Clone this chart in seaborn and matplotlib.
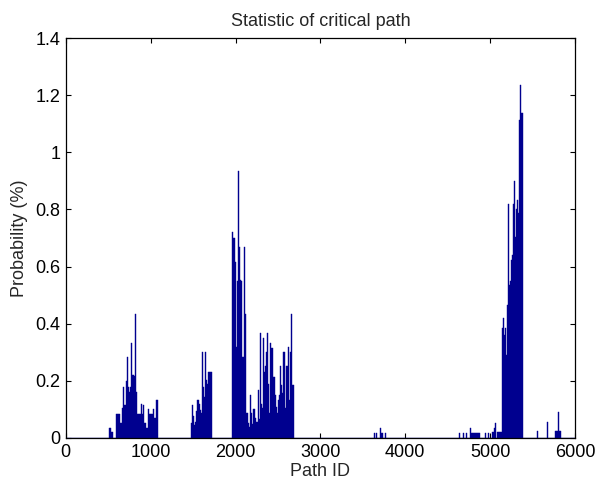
import matplotlib
matplotlib.use("Agg")
import matplotlib.pyplot as plt
import seaborn as sns
import numpy as np
import pandas as pd

# path IDs (bins of 12 ids) and probability (%)
ids_a = [510, 522, 534, 546, 594, 606, 618, 630, 642, 654, 666, 678, 690, 702,
         714, 726, 738, 750, 762, 774, 786, 798, 810, 822, 834, 846, 858, 870,
         882, 894, 906, 918, 930, 942, 954, 966, 978, 990, 1002, 1014, 1026,
         1038, 1050, 1062, 1074, 1086]
prob_a = [0.034, 0.034, 0.02, 0.02, 0.084, 0.084, 0.084, 0.084, 0.052, 0.052,
          0.105, 0.18, 0.115, 0.115, 0.2, 0.285, 0.18, 0.16, 0.18, 0.333,
          0.22, 0.22, 0.217, 0.435, 0.16, 0.084, 0.084, 0.084, 0.084, 0.118,
          0.084, 0.115, 0.052, 0.052, 0.034, 0.034, 0.1, 0.084, 0.084, 0.084,
          0.084, 0.1, 0.07, 0.07, 0.133, 0.133]

ids_b = [1482, 1494, 1506, 1518, 1530, 1542, 1554, 1566, 1578, 1590, 1602,
         1614, 1626, 1638, 1650, 1662, 1674, 1686, 1698, 1710, 1722]
prob_b = [0.051, 0.115, 0.077, 0.045, 0.057, 0.096, 0.133, 0.133, 0.119, 0.098,
          0.086, 0.302, 0.18, 0.145, 0.302, 0.203, 0.19, 0.232, 0.232, 0.232,
          0.232]

ids_c = [1962, 1974, 1986, 1998, 2010, 2022, 2034, 2046, 2058, 2070, 2082,
         2094, 2106, 2118, 2130, 2142, 2154, 2166, 2178, 2190, 2202, 2214,
         2226, 2238, 2250, 2262, 2274, 2286, 2298, 2310, 2322, 2334, 2346,
         2358, 2370, 2382, 2394, 2406, 2418, 2430, 2442, 2454, 2466, 2478,
         2490, 2502, 2514, 2526, 2538, 2550, 2562, 2574, 2586, 2598, 2610,
         2622, 2634, 2646, 2658, 2670, 2682]
prob_c = [0.72, 0.70, 0.70, 0.617, 0.32, 0.55, 0.934, 0.667, 0.553, 0.55,
          0.285, 0.285, 0.667, 0.434, 0.087, 0.087, 0.051, 0.04, 0.15, 0.087,
          0.05, 0.1, 0.1, 0.07, 0.055, 0.055, 0.168, 0.065, 0.366, 0.12,
          0.104, 0.35, 0.23, 0.252, 0.3, 0.366, 0.19, 0.087, 0.333, 0.314,
          0.215, 0.215, 0.15, 0.107, 0.087, 0.133, 0.15, 0.252, 0.187, 0.156,
          0.3, 0.3, 0.104, 0.252, 0.252, 0.317, 0.133, 0.3, 0.434, 0.187,
          0.187]

ids_d = [3642, 3666, 3714, 3726, 3762, 4638, 4686, 4722, 4770, 4782, 4794,
         4806, 4818, 4830, 4842, 4854, 4866, 4878, 4950, 4986]
prob_d = [0.019, 0.019, 0.035, 0.019, 0.019, 0.019, 0.019, 0.019, 0.035,
          0.019, 0.019, 0.019, 0.019, 0.019, 0.019, 0.019, 0.019, 0.019,
          0.019, 0.019]

ids_e = [5034, 5046, 5058, 5082, 5094, 5106, 5118, 5130, 5142, 5154, 5166,
         5178, 5190, 5202, 5214, 5226, 5238, 5250, 5262, 5274, 5286, 5298,
         5310, 5322, 5334, 5346, 5358, 5370, 5382]
prob_e = [0.022, 0.035, 0.051, 0.022, 0.022, 0.022, 0.022, 0.022, 0.384,
          0.419, 0.36, 0.384, 0.29, 0.466, 0.819, 0.536, 0.55, 0.623, 0.64,
          0.819, 0.9, 0.705, 0.8, 0.833, 0.786, 1.113, 1.236, 1.137, 1.137]

ids_f = [5562, 5682, 5766, 5778, 5790, 5802, 5814, 5826]
prob_f = [0.023, 0.057, 0.023, 0.023, 0.023, 0.09, 0.023, 0.023]

df = pd.DataFrame({
    "path_id": ids_a + ids_b + ids_c + ids_d + ids_e + ids_f,
    "prob": prob_a + prob_b + prob_c + prob_d + prob_e + prob_f,
})

sns.set_style("ticks")
plt.rcParams["font.family"] = ["Liberation Sans", "DejaVu Sans"]
plt.rcParams["xtick.direction"] = "in"
plt.rcParams["ytick.direction"] = "in"

fig = plt.figure(figsize=(5.98, 4.86), dpi=100)
ax = fig.add_axes([0.110, 0.0988, 0.8515, 0.823])

bar_color = "#00008f"
sns.histplot(data=df, x="path_id", weights="prob", binwidth=12,
             binrange=(0, 6000), color=bar_color, alpha=1,
             edgecolor=bar_color, linewidth=0.3, ax=ax)

ax.set_xlim(0, 6000)
ax.set_ylim(0, 1.4)
ax.set_xticks(range(0, 6001, 1000))
ax.set_yticks([0, 0.2, 0.4, 0.6, 0.8, 1, 1.2, 1.4])
ax.set_yticklabels(["0", "0.2", "0.4", "0.6", "0.8", "1", "1.2", "1.4"])
ax.tick_params(top=True, right=True, length=3.5, width=0.8, labelsize=13,
               colors="black", pad=4)
for s in ax.spines.values():
    s.set_visible(True)
    s.set_linewidth(0.9)
    s.set_color("black")

ax.set_title("Statistic of critical path", fontsize=13, pad=9)
ax.set_xlabel("Path ID", fontsize=13, labelpad=1.5)
ax.set_ylabel("Probability (%)", fontsize=13, labelpad=5)

fig.savefig("out.png", dpi=100)
